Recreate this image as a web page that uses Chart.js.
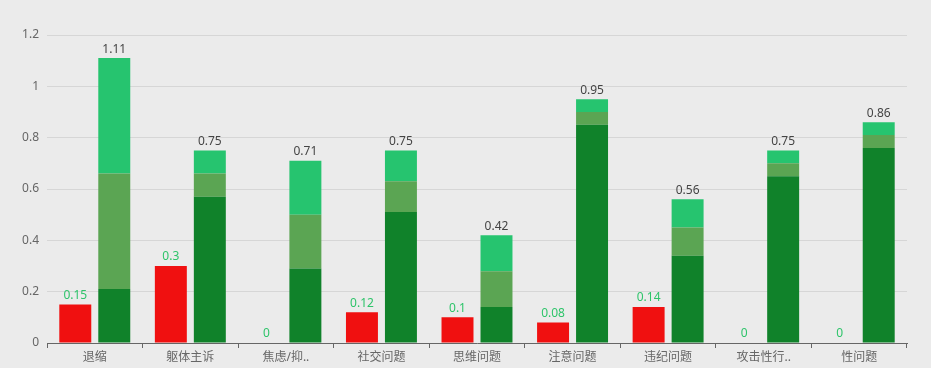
<!DOCTYPE html>
<html>
<head>
<meta charset="utf-8">
<script src="https://cdn.jsdelivr.net/npm/chart.js@4/dist/chart.umd.min.js"></script>
<style>
  html, body { margin: 0; padding: 0; background: #ebebeb; overflow: hidden; }
</style>
</head>
<body>
<canvas id="data_chart" width="931" height="368" style="width:931px;height:368px;display:block"></canvas>
<script>
var categories = ['退缩', '躯体主诉', '焦虑/抑..', '社交问题', '思维问题', '注意问题', '违纪问题', '攻击性行..', '性问题'];
var redValues = [0.15, 0.3, 0, 0.12, 0.1, 0.08, 0.14, 0, 0];
var darkValues = [0.21, 0.57, 0.29, 0.51, 0.14, 0.85, 0.34, 0.65, 0.76];
var midValues = [0.45, 0.09, 0.21, 0.12, 0.14, 0.05, 0.11, 0.05, 0.05];
var lightValues = [0.45, 0.09, 0.21, 0.12, 0.14, 0.05, 0.11, 0.05, 0.05];
var totals = [1.11, 0.75, 0.71, 0.75, 0.42, 0.95, 0.56, 0.75, 0.86];
var yTicks = [0, 0.2, 0.4, 0.6, 0.8, 1, 1.2];

var font = '"Noto Sans", "Noto Sans CJK SC", sans-serif';

// background + value labels, drawn by hand since there is no datalabels plugin
var labelPlugin = {
    id: 'labels',
    beforeDraw(chart) {
        var ctx = chart.ctx;
        ctx.save();
        ctx.fillStyle = '#ebebeb';
        ctx.fillRect(0, 0, chart.width, chart.height);
        ctx.restore();
    },
    afterDatasetsDraw(chart) {
        var ctx = chart.ctx;
        ctx.save();
        ctx.font = '12px ' + font;
        ctx.textAlign = 'center';
        ctx.textBaseline = 'bottom';
        chart.getDatasetMeta(0).data.forEach((bar, i) => {
            ctx.fillStyle = '#2ec46a';
            ctx.fillText(String(redValues[i]), bar.x, bar.y - 3);
        });
        chart.getDatasetMeta(3).data.forEach((bar, i) => {
            ctx.fillStyle = '#444';
            ctx.fillText(String(totals[i]), bar.x, bar.y - 3);
        });
        ctx.restore();
    }
};

var chart = new Chart('data_chart', {
    type: 'bar',
    data: {
        labels: categories,
        datasets: [
            { data: redValues, stack: 'a', backgroundColor: '#f01010' },
            { data: darkValues, stack: 'b', backgroundColor: '#10822a' },
            { data: midValues, stack: 'b', backgroundColor: '#5ba553' },
            { data: lightValues, stack: 'b', backgroundColor: '#26c46f' }
        ].map(d => Object.assign(d, { categoryPercentage: 0.816, barPercentage: 0.82 }))
    },
    options: {
        responsive: false,
        animation: false,
        devicePixelRatio: 1,
        layout: { padding: { top: 35, right: 24, left: 0, bottom: 0 } },
        plugins: { legend: { display: false }, tooltip: { enabled: false } },
        scales: {
            x: {
                stacked: true,
                grid: { offset: true, drawOnChartArea: false, drawTicks: true, tickLength: 5, color: '#666' },
                border: { color: '#666' },
                ticks: { color: '#666', font: { size: 12, family: font }, padding: 2, maxRotation: 0, autoSkip: false },
                afterFit(scale) { scale.height = 25; }
            },
            y: {
                stacked: true,
                min: 0,
                max: 1.2,
                afterBuildTicks(scale) { scale.ticks = yTicks.map(v => ({ value: v })); },
                grid: { color: '#d6d6d6', drawTicks: false },
                border: { display: false },
                ticks: { color: '#666', font: { size: 12, family: font }, padding: 8, callback: v => String(v) },
                afterFit(scale) { scale.width = 47; }
            }
        }
    },
    plugins: [labelPlugin]
});
</script>
</body>
</html>
